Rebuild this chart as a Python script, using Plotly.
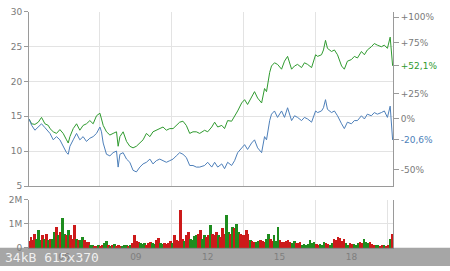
import plotly.graph_objects as go
import pandas as pd

# ---------------- data ----------------
price_dates = [
    "2005-01-15", "2005-02-25", "2005-04-15", "2005-06-05", "2005-07-25", "2005-09-15",
    "2005-11-05", "2005-12-01", "2006-01-20", "2006-03-10", "2006-05-01", "2006-06-20",
    "2006-08-10", "2006-09-05", "2006-10-01", "2006-11-20", "2007-01-10", "2007-03-01",
    "2007-04-20", "2007-06-10", "2007-08-01", "2007-09-20", "2007-11-10", "2008-01-01",
    "2008-01-25", "2008-02-20", "2008-04-10", "2008-06-01", "2008-07-20", "2008-09-10",
    "2008-10-05", "2008-11-01", "2008-12-20", "2009-02-10", "2009-04-01", "2009-05-20",
    "2009-07-10", "2009-09-01", "2009-10-20", "2009-12-10", "2010-02-01", "2010-03-20",
    "2010-05-10", "2010-07-01", "2010-08-20", "2010-10-10", "2010-12-01", "2011-01-20",
    "2011-03-10", "2011-05-01", "2011-06-20", "2011-08-10", "2011-10-01", "2011-11-20",
    "2012-01-10", "2012-03-01", "2012-05-15", "2012-07-01", "2012-09-01", "2012-10-15",
    "2012-12-01", "2013-02-01", "2013-03-15", "2013-05-01", "2013-07-01", "2013-08-15",
    "2013-10-01", "2013-12-01", "2014-01-15", "2014-03-01", "2014-05-01", "2014-06-15",
    "2014-08-01", "2014-10-01", "2014-11-15", "2014-12-15", "2015-02-01", "2015-03-01",
    "2015-04-15", "2015-06-01", "2015-08-01", "2015-09-15", "2015-11-01", "2016-01-01",
    "2016-02-15", "2016-04-01", "2016-06-01", "2016-07-15", "2016-09-01", "2016-11-01",
    "2017-01-01", "2017-02-01", "2017-04-01", "2017-05-01", "2017-06-01", "2017-07-01",
    "2017-09-01", "2017-10-15", "2017-12-01", "2018-02-01", "2018-03-15", "2018-05-01",
    "2018-07-01", "2018-08-15", "2018-10-01", "2018-12-01", "2019-01-15", "2019-03-01",
    "2019-05-01", "2019-06-15", "2019-08-01", "2019-10-01", "2019-11-15", "2020-01-01",
    "2020-02-12", "2020-03-20",
]

index_values = [  # green (benchmark, rebased)
    14.62, 13.93, 13.84, 14.16, 14.85, 13.93, 13.70, 13.24, 12.78, 12.55, 13.10, 12.55,
    11.63, 11.17, 12.09, 13.24, 13.93, 13.01, 13.70, 13.93, 14.39, 13.93, 15.08, 15.45,
    14.62, 13.70, 12.78, 12.32, 12.55, 12.78, 10.71, 12.09, 12.78, 11.40, 10.71, 10.48,
    10.71, 11.17, 11.63, 12.55, 12.09, 12.78, 13.01, 13.24, 13.47, 13.01, 13.24, 13.24,
    13.70, 14.16, 14.30, 13.70, 12.55, 12.78, 12.78, 12.55, 13.00, 12.78, 13.47, 14.16,
    13.47, 13.70, 13.24, 14.39, 14.30, 14.94, 15.77, 16.92, 17.39, 16.70, 17.85, 18.54,
    17.62, 16.92, 18.99, 18.54, 21.30, 22.22, 22.68, 22.45, 21.76, 22.91, 23.60, 21.76,
    22.22, 22.45, 21.99, 22.68, 22.45, 21.99, 23.83, 23.60, 23.83, 24.52, 25.90, 24.75,
    24.30, 24.52, 23.83, 22.22, 21.76, 22.91, 23.14, 23.60, 23.37, 24.30, 23.83, 24.52,
    24.98, 25.44, 25.21, 24.98, 25.21, 24.75, 26.36, 22.24,
]

stock_values = [  # blue (the share)
    14.62, 13.70, 13.01, 13.47, 13.93, 13.38, 12.92, 12.55, 11.63, 12.09, 11.63, 10.71,
    9.79, 9.56, 10.71, 11.63, 12.55, 11.63, 12.09, 11.40, 11.86, 12.09, 12.55, 13.47,
    12.78, 11.17, 9.56, 9.33, 9.79, 10.02, 7.72, 9.56, 9.79, 8.87, 8.41, 7.26,
    7.03, 7.72, 8.18, 8.41, 8.87, 8.18, 8.64, 8.87, 8.64, 8.41, 8.64, 8.87,
    9.33, 9.79, 9.56, 9.10, 7.95, 7.95, 7.72, 7.72, 7.95, 8.41, 7.72, 8.41,
    7.72, 8.18, 7.49, 8.41, 7.95, 8.64, 9.79, 10.48, 10.94, 10.25, 11.17, 11.63,
    10.48, 9.79, 12.09, 11.63, 14.39, 15.31, 15.77, 14.85, 15.77, 14.85, 16.23, 14.39,
    15.08, 14.85, 14.39, 14.85, 14.62, 14.16, 15.77, 15.54, 15.77, 16.23, 17.39, 16.00,
    15.54, 15.77, 15.08, 13.93, 13.24, 14.16, 13.93, 14.39, 14.39, 15.08, 14.62, 15.31,
    15.08, 15.54, 15.31, 15.54, 15.77, 14.85, 16.46, 11.61,
]

# monthly volume peaks (millions), Jan 2005 .. Mar 2020
volume_m = [
    0.30, 0.46, 0.35, 0.60, 0.40, 0.75, 0.35, 0.54, 0.40, 0.60, 0.35, 0.39,
    0.40, 0.68, 0.89, 0.54, 0.68, 1.24, 0.60, 0.54, 0.75, 0.54, 0.40, 0.96,
    0.39, 0.32, 0.35, 0.46, 0.32, 0.25, 0.25, 0.14, 0.15, 0.11, 0.10, 0.14,
    0.10, 0.15, 0.20, 0.30, 0.15, 0.10, 0.12, 0.18, 0.10, 0.15, 0.11, 0.10,
    0.15, 0.14, 0.10, 0.12, 0.20, 0.56, 0.30, 0.25, 0.20, 0.18, 0.20, 0.15,
    0.22, 0.25, 0.20, 0.18, 0.35, 0.42, 0.20, 0.18, 0.20, 0.18, 0.20, 0.30,
    0.20, 0.54, 0.35, 0.30, 1.60, 0.39, 0.30, 0.54, 0.68, 0.40, 0.32, 0.50,
    0.54, 0.60, 0.75, 0.40, 0.54, 0.45, 0.54, 0.96, 0.60, 0.54, 0.68, 0.54,
    0.46, 0.82, 0.60, 1.38, 0.68, 0.60, 0.89, 0.82, 1.00, 0.68, 0.60, 0.54,
    0.54, 0.75, 0.60, 0.32, 0.30, 0.25, 0.25, 0.30, 0.32, 0.30, 0.25, 0.40,
    0.60, 0.39, 0.30, 0.54, 0.30, 0.89, 0.32, 0.25, 0.25, 0.30, 0.32, 0.25,
    0.20, 0.28, 0.20, 0.22, 0.25, 0.15, 0.18, 0.15, 0.18, 0.32, 0.20, 0.25,
    0.18, 0.15, 0.18, 0.15, 0.25, 0.20, 0.18, 0.15, 0.20, 0.39, 0.35, 0.46,
    0.42, 0.30, 0.39, 0.20, 0.15, 0.22, 0.18, 0.18, 0.15, 0.22, 0.25, 0.20,
    0.39, 0.25, 0.20, 0.25, 0.18, 0.15, 0.12, 0.14, 0.10, 0.12, 0.14, 0.10,
    0.12, 0.39, 0.60,
]

# 1 = up day (green), 0 = down day (red)
volume_up = [
    0, 0, 0, 0, 1, 1, 1, 0, 1, 0, 1, 0,
    1, 1, 0, 1, 0, 1, 1, 0, 1, 0, 0, 0,
    1, 0, 1, 1, 0, 0, 0, 1, 1, 0, 0, 1,
    0, 0, 1, 1, 0, 1, 0, 1, 0, 0, 0, 1,
    1, 1, 0, 1, 0, 0, 0, 0, 1, 1, 1, 0,
    0, 0, 1, 1, 0, 0, 1, 1, 0, 0, 0, 0,
    1, 0, 0, 0, 0, 0, 1, 0, 0, 1, 1, 1,
    1, 0, 0, 1, 1, 0, 0, 1, 0, 0, 0, 1,
    0, 0, 0, 1, 1, 0, 1, 0, 1, 1, 0, 0,
    0, 0, 0, 1, 0, 0, 1, 1, 0, 0, 0, 1,
    1, 0, 0, 1, 1, 1, 0, 0, 0, 0, 0, 0,
    1, 1, 0, 0, 0, 1, 1, 1, 1, 1, 1, 1,
    0, 0, 1, 1, 1, 0, 0, 1, 1, 0, 0, 0,
    0, 0, 0, 1, 1, 0, 0, 1, 1, 1, 0, 0,
    1, 1, 1, 0, 0, 0, 1, 1, 0, 0, 1, 0,
    0, 1, 0,
]
volume_dates = pd.date_range("2005-01-01", periods=len(volume_m), freq="MS") + pd.Timedelta(days=14)

year_labels = ["06", "09", "12", "15", "18"]
year_label_dates = ["2006-07-02", "2009-07-02", "2012-07-02", "2015-07-02", "2018-07-02"]
price_ticks = [5, 10, 15, 20, 25, 30]
pct_ticks = [100, 75, 25, 0, -50]
volume_ticks = [0, 1, 2]
volume_tick_text = ["0", "1M", "2M"]

# ---------------- style ----------------
GREEN = "#2f9a2f"
BLUE = "#4d7fb9"
VGREEN = "#1e8c1e"
VRED = "#cc1a1a"
GRID = "#e3e3e3"
AXIS = "#9a9a9a"
TXT = "#7a7a7a"
FONT = "DejaVu Sans"
W, H = 450, 271

base = stock_values[0]
pct_range = [(5 / base - 1) * 100, (30 / base - 1) * 100]
stock_pct = [(v / base - 1) * 100 for v in stock_values]
idx_end = (index_values[-1] / base - 1) * 100
stk_end = (stock_values[-1] / base - 1) * 100


def fmt_pct(p):
    s = f"{p:+.1f}".replace(".", ",")
    return s + "%"


def fmt_int_pct(p):
    return ("+" if p > 0 else "") + f"{p:.0f}%"


r_vals = pct_ticks + [idx_end, stk_end]
r_text = [fmt_int_pct(p) for p in pct_ticks] + [
    f'<span style="color:{GREEN}">{fmt_pct(idx_end)}</span>',
    f'<span style="color:{BLUE}">{fmt_pct(stk_end)}</span>',
]

xdom = [29 / W, 393 / W]
xrange_ = ["2005-01-15", "2020-03-26"]

fig = go.Figure()
fig.add_trace(go.Scatter(x=price_dates, y=index_values, mode="lines",
                         line=dict(color=GREEN, width=1), xaxis="x", yaxis="y",
                         showlegend=False, hoverinfo="skip"))
fig.add_trace(go.Scatter(x=price_dates, y=stock_values, mode="lines",
                         line=dict(color=BLUE, width=1), xaxis="x", yaxis="y",
                         showlegend=False, hoverinfo="skip"))
fig.add_trace(go.Scatter(x=price_dates, y=stock_pct, mode="lines", opacity=0,
                         line=dict(width=0), xaxis="x", yaxis="y2",
                         showlegend=False, hoverinfo="skip"))
fig.add_trace(go.Bar(x=volume_dates, y=volume_m,
                     marker=dict(color=[VGREEN if u else VRED for u in volume_up], line=dict(width=0)),
                     width=30 * 86400000, xaxis="x2", yaxis="y3",
                     showlegend=False, hoverinfo="skip"))

minor_grid = dict(tickmode="linear", tick0="2008-01-01", dtick="M36",
                  showgrid=True, gridcolor=GRID, gridwidth=1, ticks="")

fig.update_layout(
    width=W, height=H, autosize=False,
    margin=dict(l=0, r=0, t=0, b=0),
    paper_bgcolor="white", plot_bgcolor="white",
    font=dict(family=FONT, size=9, color=TXT),
    bargap=0,
    xaxis=dict(domain=xdom, range=xrange_, type="date", anchor="y",
               showticklabels=False, showgrid=False, ticks="",
               showline=True, linecolor=AXIS, linewidth=1, zeroline=False,
               minor=minor_grid),
    yaxis=dict(domain=[(H - 188) / H, (H - 7) / H], range=[5, 30], anchor="x",
               tickmode="array", tickvals=price_ticks,
               ticks="outside", ticklen=4, tickcolor=AXIS,
               showline=True, linecolor=AXIS, linewidth=1,
               showgrid=True, gridcolor=GRID, zeroline=False,
               tickfont=dict(size=9, color=TXT)),
    yaxis2=dict(overlaying="y", side="right", anchor="x", range=pct_range,
                tickmode="array", tickvals=r_vals, ticktext=r_text,
                ticks="outside", ticklen=5, tickcolor=AXIS,
                showline=True, linecolor=AXIS, linewidth=1,
                showgrid=False, zeroline=False,
                tickfont=dict(size=9, color=TXT)),
    xaxis2=dict(domain=xdom, range=xrange_, type="date", anchor="y3", matches="x",
                tickmode="array", tickvals=year_label_dates, ticktext=year_labels,
                showgrid=False, ticks="", showline=True, linecolor=AXIS,
                linewidth=1, zeroline=False, tickfont=dict(size=9, color=TXT),
                minor=minor_grid),
    yaxis3=dict(domain=[(H - 252.3) / H, (H - 202.3) / H], range=[0, 2], anchor="x2",
                tickmode="array", tickvals=volume_ticks, ticktext=volume_tick_text,
                ticks="outside", ticklen=4, tickcolor=AXIS,
                showline=True, mirror=True, linecolor=AXIS, linewidth=1,
                showgrid=True, gridcolor=GRID, zeroline=False,
                tickfont=dict(size=9, color=TXT)),
)

# thumbnail info strip at the bottom
fig.add_shape(type="rect", xref="paper", yref="paper", x0=0, x1=1, y0=0, y1=(H - 252) / H,
              fillcolor="rgba(128,128,128,0.7)", line=dict(width=0), layer="above")
fig.add_annotation(text="34kB 615x370", xref="paper", yref="paper",
                   x=4 / W, y=(H - 262.5) / H, xanchor="left", yanchor="middle",
                   showarrow=False, borderpad=0,
                   font=dict(family="DejaVu Sans Mono", size=13, color="rgba(245,245,245,0.95)"))

fig.write_html("out.html")
